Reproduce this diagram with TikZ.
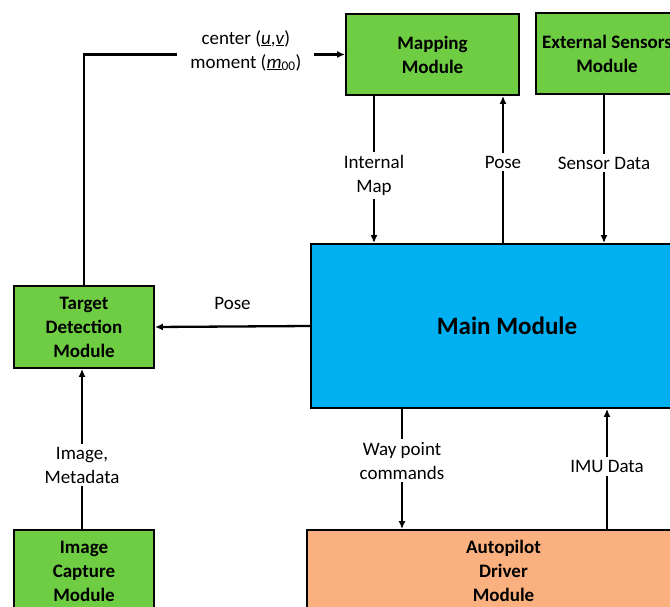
\documentclass[tikz,border=0pt]{standalone}
\usepackage{fontspec}
\setmainfont{Carlito}
\usetikzlibrary{arrows.meta}
\definecolor{modgreen}{RGB}{111,205,68}
\definecolor{modblue}{RGB}{0,176,240}
\definecolor{modorange}{RGB}{251,176,128}
\tikzset{
  module/.style={draw=black, line width=1.8pt, align=center, inner sep=0pt,
    font=\fontsize{19}{24}\selectfont\bfseries},
  greenmod/.style={module, fill=modgreen},
  arr/.style={line width=2.3pt, -{Latex[length=8pt,width=7pt]}},
  lbl/.style={fill=white, inner sep=3pt, align=center,
    font=\fontsize{19}{24}\selectfont}
}
\begin{document}
\begin{tikzpicture}[x=1pt, y=-1pt]
  \clip (0,0) rectangle (670,607);
  \fill[white] (0,0) rectangle (670,607);

  % modules
  \node[greenmod, minimum width=173pt, minimum height=81pt] (map) at (432.5,54.5) {Mapping\\Module};
  \node[greenmod, minimum width=142pt, minimum height=81pt] (ext) at (607,53.5) {External Sensors\\Module};
  \node[module, fill=modblue, minimum width=392pt, minimum height=164pt,
        font=\fontsize{25}{30}\selectfont\bfseries] (main) at (507,326) {Main Module};
  \node[greenmod, minimum width=140pt, minimum height=82pt] (tgt) at (84,327) {Target\\Detection\\Module};
  \node[greenmod, minimum width=140pt, minimum height=82pt] (img) at (84,571) {Image\\Capture\\Module};
  \node[module, fill=modorange, minimum width=393pt, minimum height=82pt] (auto) at (503.5,571) {Autopilot\\Driver\\Module};

  % connectors
  \draw[arr] (tgt.north) |- node[lbl, pos=0.81, inner xsep=13pt, yshift=4pt]
    {center (\underline{\textit{u}},\underline{\textit{v}})\\moment (\underline{\textit{m}}\textsubscript{00})} (map.west);

  \draw[arr] (map.south -| 374,0) -- node[lbl, pos=0.54] {Internal\\Map} (main.north -| 374,0);
  \draw[arr] (main.north -| 503,0) -- node[lbl, pos=0.55] {Pose} (map.south -| 503,0);
  \draw[arr] (ext.south -| 604,0) -- node[lbl, pos=0.46] {Sensor Data} (main.north -| 604,0);

  \draw[arr] (main.west) -- node[lbl, above=13pt, fill=none] {Pose} (tgt.east);

  \draw[arr] (img.north -| 82,0) -- node[lbl, pos=0.4] {Image,\\Metadata} (tgt.south -| 82,0);

  \draw[arr] (main.south -| 402,0) -- node[lbl, pos=0.43] {Way point\\commands} (auto.north -| 402,0);
  \draw[arr] (auto.north -| 607,0) -- node[lbl, pos=0.52] {IMU Data} (main.south -| 607,0);
\end{tikzpicture}
\end{document}
